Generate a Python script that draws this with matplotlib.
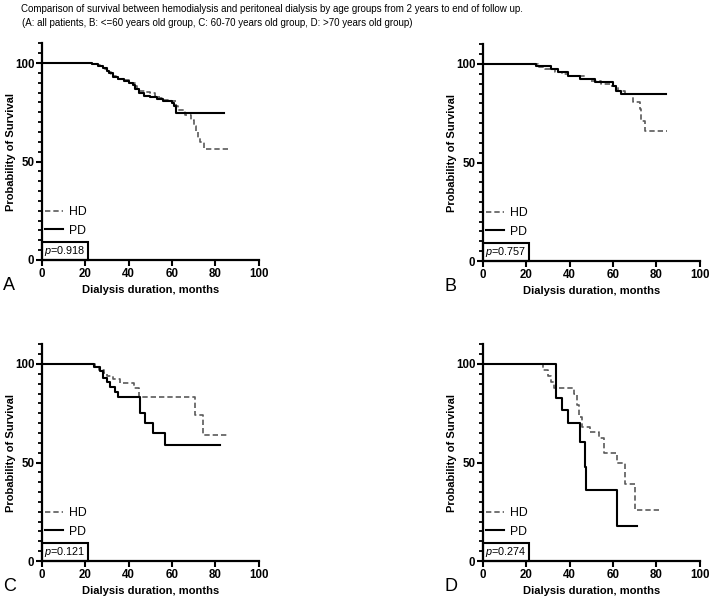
import matplotlib
matplotlib.use('Agg')
import matplotlib.pyplot as plt
from matplotlib.patches import Rectangle
from matplotlib.ticker import MultipleLocator
import numpy as np

plt.rcParams['font.family'] = ['Liberation Sans', 'DejaVu Sans']
plt.rcParams['mathtext.fontset'] = 'custom'
plt.rcParams['mathtext.rm'] = 'Liberation Sans'
plt.rcParams['mathtext.it'] = 'Liberation Sans:italic'

title_1 = 'Comparison of survival between hemodialysis and peritoneal dialysis by age groups from 2 years to end of follow up.'
title_2 = '(A: all patients, B: <=60 years old group, C: 60-70 years old group, D: >70 years old group)'

# Kaplan-Meier steps: (time in months, survival %)
A_HD_t = [0, 23, 25, 27, 28, 29, 30, 31, 32, 33, 34, 35, 37, 40, 41, 43, 44, 45, 48, 50, 52, 54, 56, 58, 62, 63, 66, 69, 70, 71, 72, 73, 75]
A_HD_s = [100, 99.5, 99, 98.3, 97.5, 97, 96, 95.3, 94.5, 93.5, 92.5, 92, 91.5, 91, 90, 88.5, 87, 86, 85.5, 85, 83.5, 82, 81, 80.5, 78, 76, 73.5, 71, 68, 65, 62, 60, 56.5]
A_HD_end = 86
A_PD_t = [0, 23, 26, 28, 30, 31, 33, 35, 38, 40, 42, 43, 45, 47, 50, 53, 56, 60, 61, 62]
A_PD_s = [100, 99.5, 98.5, 97.5, 96, 95, 93, 92, 91, 90, 89, 87, 85, 83.5, 82.5, 81.5, 80.5, 79.5, 78, 74.5]
A_PD_end = 84

B_HD_t = [0, 25.5, 28.6, 33.2, 36.3, 39.3, 47, 50, 54.7, 58.5, 62.4, 65.4, 69.3, 72.4, 73.1, 74.7]
B_HD_s = [100, 98.3, 97.5, 95.8, 95, 94.1, 92.4, 91.6, 89.9, 89, 86.5, 84.8, 80.5, 77.1, 71.2, 66.2]
B_HD_end = 85
B_PD_t = [0, 24.7, 31.6, 34.7, 39.3, 44.7, 51.6, 60, 61.6, 63.9]
B_PD_s = [100, 99.2, 97.5, 95.8, 94.1, 92.4, 90.7, 89, 86.5, 84.8]
B_PD_end = 84.6

C_HD_t = [0, 24.5, 26.5, 28.5, 30, 33, 36, 42.3, 44.6, 70.8, 74.2]
C_HD_s = [100, 98.5, 97, 95.5, 94, 92.5, 90.5, 87.7, 83.4, 74.1, 64]
C_HD_end = 86
C_PD_t = [0, 23.8, 26.9, 28.4, 30, 31.5, 33.8, 35, 45.4, 47.7, 51.2, 56.9]
C_PD_s = [100, 98.6, 96.5, 92.7, 91, 88.5, 86, 83.1, 75, 69.9, 64.8, 58.9]
C_PD_end = 82.1

D_HD_t = [0, 27.8, 30, 31.5, 33, 42.1, 43.5, 44.5, 45.5, 49.3, 53.5, 55.8, 61.9, 65.4, 70]
D_HD_s = [100, 97, 94, 91, 88, 85, 79, 73, 68.2, 65.3, 62.3, 54.7, 49.6, 39.1, 25.9]
D_HD_end = 82.6
D_PD_t = [0, 33.5, 36.6, 39.3, 44.7, 47, 47.6, 61.9]
D_PD_s = [100, 82.6, 76.6, 70.2, 60.2, 47.9, 36, 17.9]
D_PD_end = 71.3

p_values = ['0.918', '0.757', '0.121', '0.274']
letters = ['A', 'B', 'C', 'D']


def km(ax, t, s, end, **kw):
    ax.step(np.append(t, end), np.append(s, s[-1]), where='post', **kw)


def panel(ax, hd, pd, pval, letter):
    km(ax, *hd, color='#5a5a5a', lw=1.2, dashes=(3.2, 1.8), label='HD')
    km(ax, *pd, color='black', lw=1.5, label='PD')
    ax.set_xlim(0, 100)
    ax.set_ylim(0, 110)
    for s in ['top', 'right']:
        ax.spines[s].set_visible(False)
    for s in ['left', 'bottom']:
        ax.spines[s].set_linewidth(1.6)
    ax.set_xticks([0, 20, 40, 60, 80, 100])
    ax.set_yticks([0, 50, 100])
    ax.yaxis.set_minor_locator(MultipleLocator(5))
    ax.tick_params(which='major', length=4, width=1.5, labelsize=8.3, pad=1.5)
    ax.tick_params(which='minor', length=3, width=1.3)
    for lab in ax.get_xticklabels() + ax.get_yticklabels():
        lab.set_fontweight('bold')
    ax.set_ylabel('Probability of Survival', fontsize=8, fontweight='bold')
    ax.set_xlabel('Dialysis duration, months', fontsize=8, fontweight='bold')
    ax.yaxis.set_label_coords(-0.12, 0.5)
    ax.xaxis.set_label_coords(0.5, -0.115)
    ax.xaxis.label.set_va('top')
    ax.legend(loc='lower left', bbox_to_anchor=(0.012, 0.108), frameon=False,
              fontsize=8.8, handlelength=1.5, handletextpad=0.5,
              labelspacing=0.55, borderpad=0, borderaxespad=0)
    ax.add_patch(Rectangle((0, 0), 21.3, 9.3, fill=False, lw=1.5,
                           edgecolor='black', clip_on=False, zorder=5))
    ax.text(0.9, 4.4, r'$\it{p}$=' + pval, fontsize=7.8, va='center', ha='left')
    ax.text(-0.178, -0.078, letter, transform=ax.transAxes, fontsize=13,
            ha='left', va='top')


fig = plt.figure(figsize=(7.09, 5.99), dpi=100)
W, H = 709, 599
positions = [(42, 260), (483, 261), (42, 561), (483, 561)]
data = [((A_HD_t, A_HD_s, A_HD_end), (A_PD_t, A_PD_s, A_PD_end)),
        ((B_HD_t, B_HD_s, B_HD_end), (B_PD_t, B_PD_s, B_PD_end)),
        ((C_HD_t, C_HD_s, C_HD_end), (C_PD_t, C_PD_s, C_PD_end)),
        ((D_HD_t, D_HD_s, D_HD_end), (D_PD_t, D_PD_s, D_PD_end))]

for (x0, y0), (hd, pd), pval, letter in zip(positions, data, p_values, letters):
    ax = fig.add_axes([x0 / W, (H - y0) / H, 216.5 / W, 216.7 / H])
    panel(ax, hd, pd, pval, letter)

fig.text(21 / W, 1 - 12 / H, title_1, fontsize=7.0, va='baseline')
fig.text(22 / W, 1 - 25.5 / H, title_2, fontsize=7.0, va='baseline')

fig.savefig('out.png', dpi=100)
